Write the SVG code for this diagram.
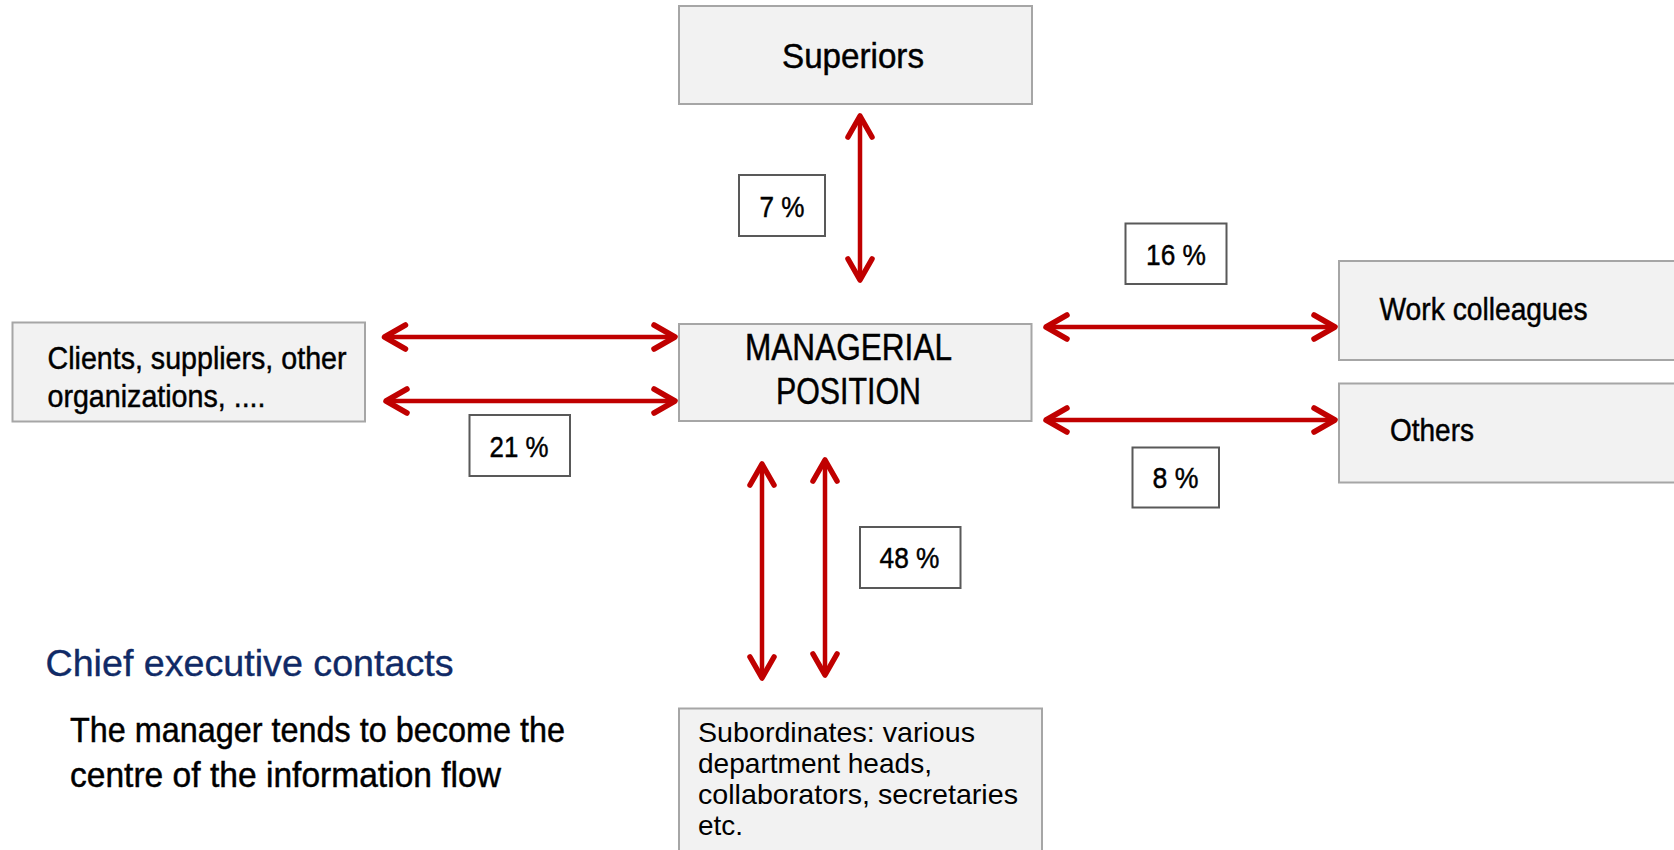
<svg xmlns="http://www.w3.org/2000/svg" width="1674" height="850" viewBox="0 0 1674 850">
<style>
.node{fill:#F2F2F2;stroke:#A6A6A6;stroke-width:2}
.pct{fill:#FFFFFF;stroke:#595959;stroke-width:2}
.t{font-family:"Liberation Sans",Arial,sans-serif;fill:#000000}
.n{stroke:#000000;stroke-width:0.45}
.conn{stroke:#C00000;stroke-width:4.5;fill:none;marker-start:url(#ah);marker-end:url(#ah)}
</style>
<defs>
<marker id="ah" markerUnits="userSpaceOnUse" viewBox="-28 -16 32 32" markerWidth="32" markerHeight="32" refX="0" refY="0" orient="auto-start-reverse">
<path d="M-21,-12 L0,0 L-21,12" fill="none" stroke="#C00000" stroke-width="5.5" stroke-linecap="round" stroke-linejoin="round"/>
</marker>
</defs>
<rect width="1674" height="850" fill="#FFFFFF"/>
<g id="connectors">
<line class="conn" x1="860" y1="116" x2="860" y2="280"/>
<line class="conn" x1="384.5" y1="337" x2="675" y2="337"/>
<line class="conn" x1="386" y1="401" x2="675" y2="401"/>
<line class="conn" x1="1046" y1="327" x2="1335" y2="327"/>
<line class="conn" x1="1046" y1="420" x2="1335" y2="420"/>
<line class="conn" x1="762" y1="464" x2="762" y2="678"/>
<line class="conn" x1="825" y1="460" x2="825" y2="675"/>
</g>
<g id="superiors">
<rect class="node" x="679" y="6" width="353" height="98"/>
<text class="t n" x="782" y="68" font-size="35" textLength="142" lengthAdjust="spacingAndGlyphs">Superiors</text>
</g>
<g id="managerial">
<rect class="node" x="679" y="324" width="352.5" height="97"/>
<text class="t n" x="745" y="360" font-size="37" textLength="207" lengthAdjust="spacingAndGlyphs">MANAGERIAL</text>
<text class="t n" x="776" y="404" font-size="37" textLength="145" lengthAdjust="spacingAndGlyphs">POSITION</text>
</g>
<g id="clients">
<rect class="node" x="12.5" y="322.5" width="352.5" height="99"/>
<text class="t n" x="47.5" y="368.5" font-size="31" textLength="299" lengthAdjust="spacingAndGlyphs">Clients, suppliers, other</text>
<text class="t n" x="47.5" y="406.5" font-size="31" textLength="218" lengthAdjust="spacingAndGlyphs">organizations, ....</text>
</g>
<g id="work-colleagues">
<rect class="node" x="1339" y="261" width="345" height="99"/>
<text class="t n" x="1379.5" y="319.5" font-size="31" textLength="208" lengthAdjust="spacingAndGlyphs">Work colleagues</text>
</g>
<g id="others">
<rect class="node" x="1339" y="383.5" width="345" height="99"/>
<text class="t n" x="1390" y="441" font-size="31" textLength="84" lengthAdjust="spacingAndGlyphs">Others</text>
</g>
<g id="subordinates">
<rect class="node" x="679" y="708.5" width="363" height="150"/>
<text class="t" x="698" y="741.5" font-size="28" textLength="277" lengthAdjust="spacingAndGlyphs">Subordinates: various</text>
<text class="t" x="698" y="772.5" font-size="28" textLength="234" lengthAdjust="spacingAndGlyphs">department heads,</text>
<text class="t" x="698" y="803.5" font-size="28" textLength="320" lengthAdjust="spacingAndGlyphs">collaborators, secretaries</text>
<text class="t" x="698" y="834.5" font-size="28" textLength="45" lengthAdjust="spacingAndGlyphs">etc.</text>
</g>
<g id="pct-7">
<rect class="pct" x="739" y="175" width="86" height="61"/>
<text class="t n" x="759.5" y="217" font-size="30" textLength="45" lengthAdjust="spacingAndGlyphs">7 %</text>
</g>
<g id="pct-21">
<rect class="pct" x="469.5" y="415" width="100.5" height="61"/>
<text class="t n" x="489.5" y="456.5" font-size="30" textLength="59" lengthAdjust="spacingAndGlyphs">21 %</text>
</g>
<g id="pct-16">
<rect class="pct" x="1125.5" y="223.5" width="101" height="60.5"/>
<text class="t n" x="1146" y="264.5" font-size="30" textLength="60" lengthAdjust="spacingAndGlyphs">16 %</text>
</g>
<g id="pct-8">
<rect class="pct" x="1132.5" y="447.5" width="86.5" height="60"/>
<text class="t n" x="1152.5" y="487.5" font-size="30" textLength="46" lengthAdjust="spacingAndGlyphs">8 %</text>
</g>
<g id="pct-48">
<rect class="pct" x="860" y="527" width="100.5" height="61"/>
<text class="t n" x="879.5" y="568" font-size="30" textLength="60" lengthAdjust="spacingAndGlyphs">48 %</text>
</g>
<g id="caption">
<text x="45.5" y="675.5" font-size="37" font-family="Liberation Sans, Arial, sans-serif" fill="#102A66" stroke="#102A66" stroke-width="0.35" textLength="408" lengthAdjust="spacingAndGlyphs">Chief executive contacts</text>
<text class="t n" x="70" y="742" font-size="35" textLength="495" lengthAdjust="spacingAndGlyphs">The manager tends to become the</text>
<text class="t n" x="70" y="787" font-size="35" textLength="431" lengthAdjust="spacingAndGlyphs">centre of the information flow</text>
</g>
</svg>
